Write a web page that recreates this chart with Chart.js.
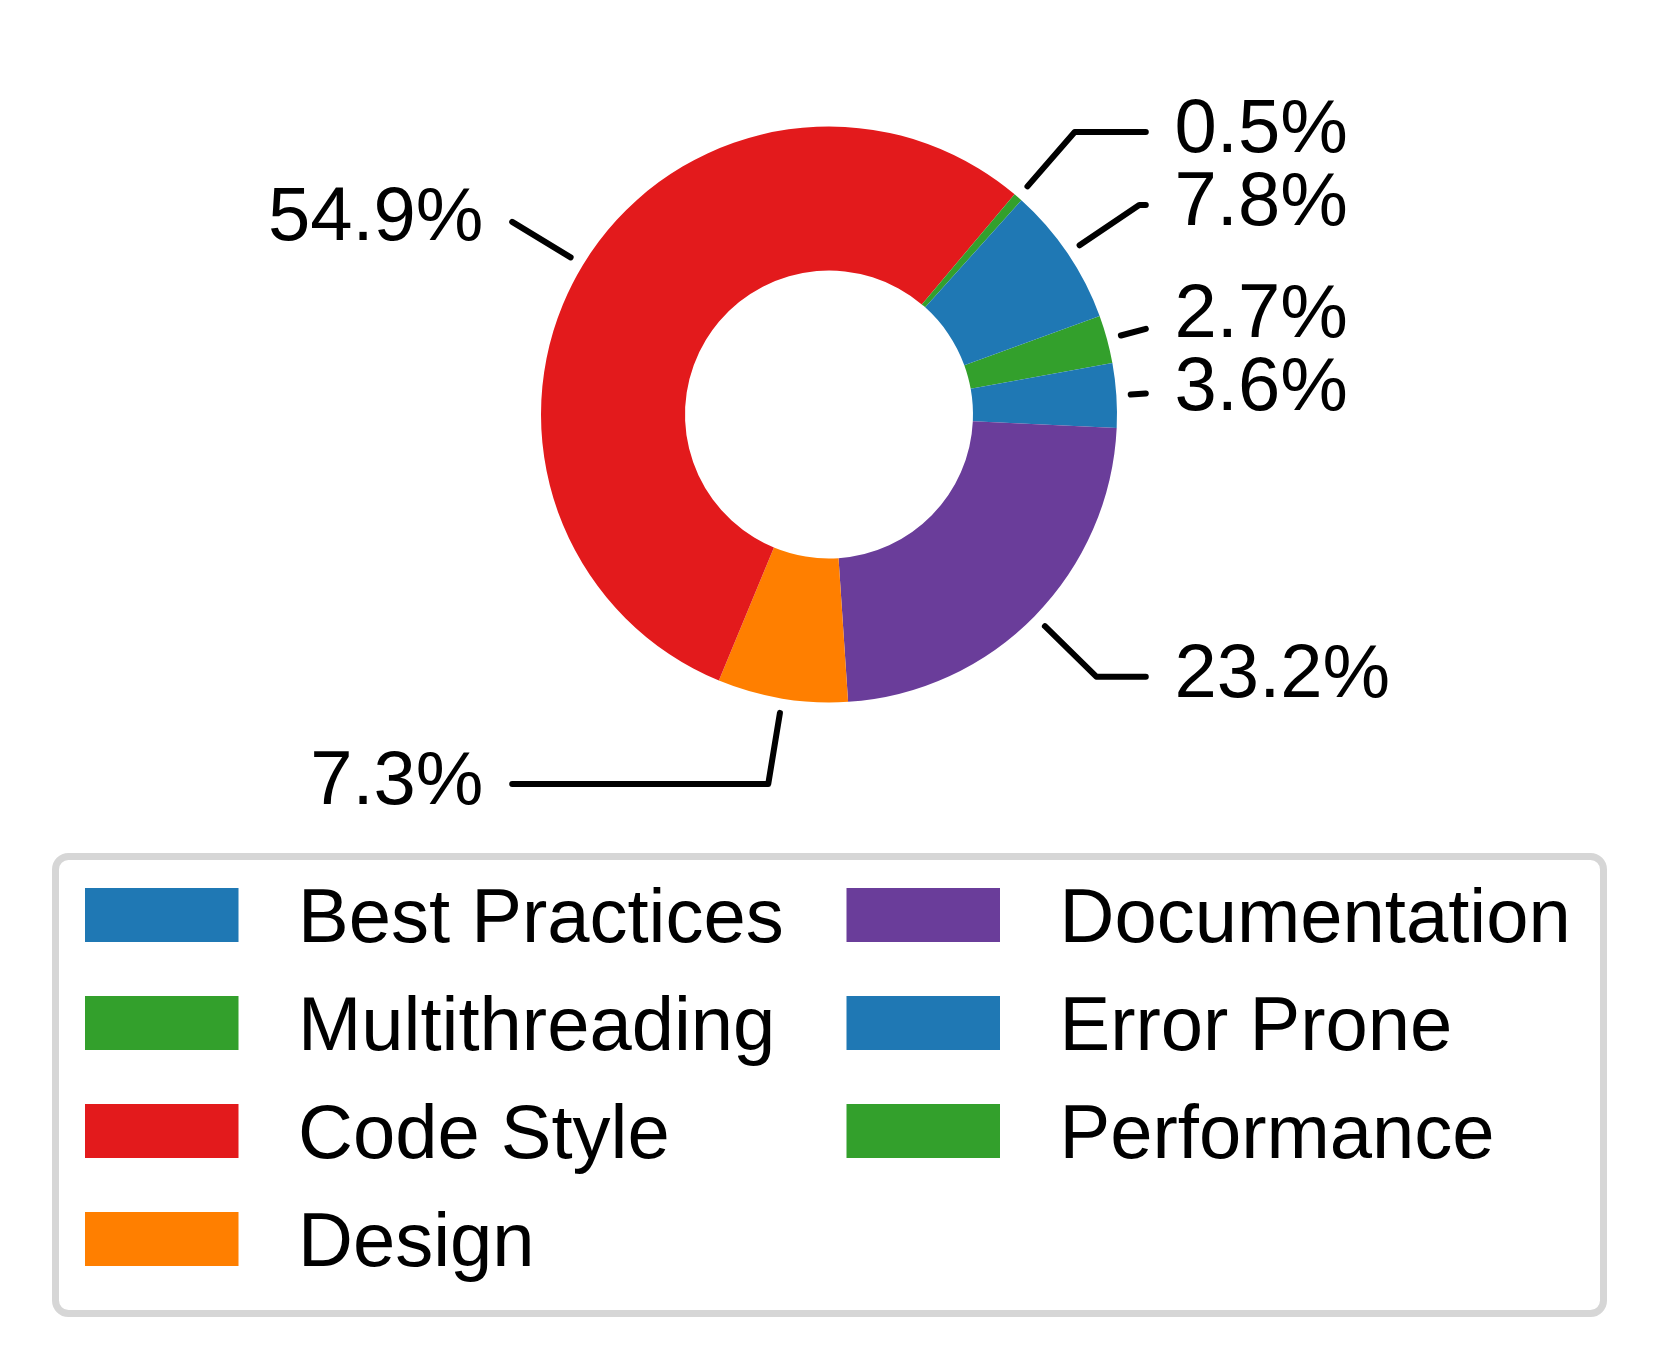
<!DOCTYPE html>
<html>
<head>
<meta charset="utf-8">
<title>Issue categories</title>
<script src="https://cdn.jsdelivr.net/npm/chart.js@4.4.0/dist/chart.umd.min.js"></script>
<style>
  html, body { margin: 0; padding: 0; background: #fff; }
  #wrap { width: 1658px; height: 1369px; }
</style>
</head>
<body>
<div id="wrap"><canvas id="donut" width="1658" height="1369"></canvas></div>
<script>
// ==========================
// Data (legend order)
// ==========================
const categories = ['Best Practices', 'Multithreading', 'Code Style', 'Design', 'Documentation', 'Error Prone', 'Performance'];
const shares = [7.8, 0.5, 54.9, 7.3, 23.2, 3.6, 2.7];
const sliceColors = ['#1f78b4', '#33a02c', '#e31a1c', '#ff7f00', '#6a3d9a', '#1f78b4', '#33a02c'];

const FONT = '"Liberation Sans", Arial, sans-serif';

// source goes counter-clockwise, Chart.js draws clockwise -> feed it reversed
const order = categories.map((_, i) => i).reverse();

// ==========================
// Percent labels with leader lines
// ==========================
const pctLabels = {
  id: 'pctLabels',
  afterDatasetsDraw(chart) {
    const ctx = chart.ctx;
    const meta = chart.getDatasetMeta(0);
    const total = shares.reduce((a, b) => a + b, 0);

    ctx.save();
    ctx.strokeStyle = '#000';
    ctx.lineWidth = 6;
    ctx.lineCap = 'round';
    ctx.lineJoin = 'round';
    ctx.fillStyle = '#000';
    ctx.font = '76px ' + FONT;
    ctx.textBaseline = 'alphabetic';

    meta.data.forEach((arc, k) => {
      const i = order[k];
      const p = arc.getProps(['x', 'y', 'startAngle', 'endAngle', 'outerRadius'], true);
      const a = (p.startAngle + p.endAngle) / 2;
      const ux = Math.cos(a), uy = Math.sin(a);
      const side = ux >= 0 ? 1 : -1;
      const R = p.outerRadius;

      const x0 = p.x + ux * R * 1.05;
      const y0 = p.y + uy * R * 1.05;
      const ty = p.y + uy * R * 1.3;
      const xEnd = p.x + side * R * 1.1;

      ctx.beginPath();
      ctx.moveTo(x0, y0);
      const t = Math.abs(uy) > 1e-6 ? (ty - y0) / uy : 0;
      const xc = x0 + t * ux;
      if ((xc - xEnd) * side > 0) {
        // elbow would sit past the text, so the radial part gets cut off
        const t2 = (xEnd - x0) / ux;
        ctx.lineTo(xEnd, y0 + t2 * uy);
      } else {
        ctx.lineTo(xc, ty);
        ctx.lineTo(xEnd, ty);
      }
      ctx.stroke();

      ctx.textAlign = side > 0 ? 'left' : 'right';
      const txt = (shares[i] / total * 100).toFixed(1) + '%';
      ctx.fillText(txt, p.x + side * R * 1.2, ty + 20);
    });
    ctx.restore();
  }
};

// ==========================
// Boxed legend, two columns, filled column by column
// ==========================
function roundedRect(ctx, x, y, w, h, r) {
  ctx.beginPath();
  ctx.moveTo(x + r, y);
  ctx.arcTo(x + w, y, x + w, y + h, r);
  ctx.arcTo(x + w, y + h, x, y + h, r);
  ctx.arcTo(x, y + h, x, y, r);
  ctx.arcTo(x, y, x + w, y, r);
  ctx.closePath();
}

const boxLegend = {
  id: 'boxLegend',
  afterDraw(chart) {
    const ctx = chart.ctx;
    ctx.save();
    ctx.strokeStyle = '#d6d6d6';
    ctx.lineWidth = 7;
    roundedRect(ctx, 55.5, 856.5, 1548, 457, 13);
    ctx.stroke();

    ctx.font = '76px ' + FONT;
    ctx.textAlign = 'left';
    ctx.textBaseline = 'alphabetic';
    const perCol = 4;
    categories.forEach((name, i) => {
      const col = Math.floor(i / perCol), row = i % perCol;
      const x = 85 + col * 761.5;
      const y = 888 + row * 108;
      ctx.fillStyle = sliceColors[i];
      ctx.fillRect(x, y, 153.5, 54);
      ctx.fillStyle = '#000';
      ctx.fillText(name, x + 213, y + 54);
    });
    ctx.restore();
  }
};

// ==========================
// Chart
// ==========================
const ctx = document.getElementById('donut').getContext('2d');
new Chart(ctx, {
  type: 'doughnut',
  data: {
    labels: order.map(i => categories[i]),
    datasets: [{
      data: order.map(i => shares[i]),
      backgroundColor: order.map(i => sliceColors[i]),
      borderWidth: 0
    }]
  },
  options: {
    responsive: false,
    animation: false,
    rotation: 70,
    cutout: '50%',
    layout: { padding: { left: 541, right: 541, top: 126.5, bottom: 666.5 } },
    plugins: {
      legend: { display: false },
      tooltip: { enabled: false }
    }
  },
  plugins: [pctLabels, boxLegend]
});
</script>
</body>
</html>
